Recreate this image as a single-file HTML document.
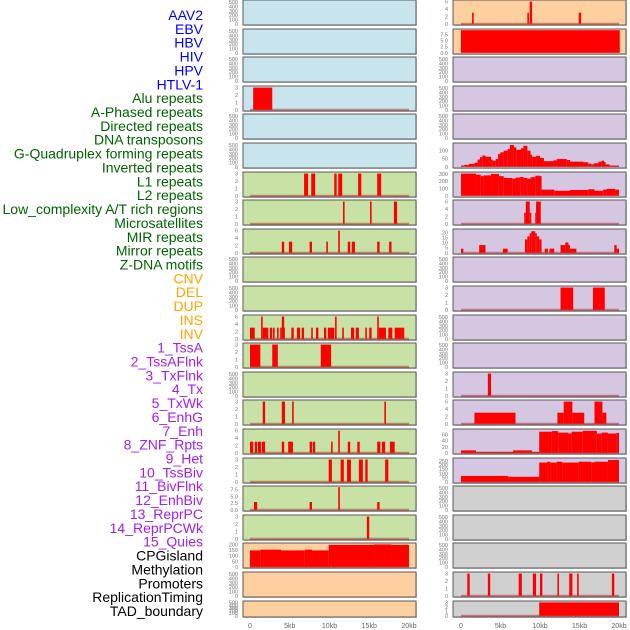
<!DOCTYPE html>
<html><head><meta charset="utf-8">
<style>
html,body{margin:0;padding:0;background:#fff;}
svg{display:block;font-family:"Liberation Sans",sans-serif;}
</style></head>
<body>
<svg id="chart" width="630" height="630" viewBox="0 0 630 630"></svg>
<script>
// ---- track labels (left side) ----
const labels = ["AAV2","EBV","HBV","HIV","HPV","HTLV-1","Alu repeats","A-Phased repeats","Directed repeats","DNA transposons","G-Quadruplex forming repeats","Inverted repeats","L1 repeats","L2 repeats","Low_complexity A/T rich regions","Microsatellites","MIR repeats","Mirror repeats","Z-DNA motifs","CNV","DEL","DUP","INS","INV","1_TssA","2_TssAFlnk","3_TxFlnk","4_Tx","5_TxWk","6_EnhG","7_Enh","8_ZNF_Rpts","9_Het","10_TssBiv","11_BivFlnk","12_EnhBiv","13_ReprPC","14_ReprPCWk","15_Quies","CPGisland","Methylation","Promoters","ReplicationTiming","TAD_boundary"];
const labelGroups = [6,13,5,15,5];
const xTicks = [0,5,10,15,20];
const xTickLabels = ["0","5kb","10kb","15kb","20kb"];

// ---- panel data: [startKb, endKb, value] ----
const E = [];
const L_alu = [[0.4,2.8,3]];
const L_l1 = [[6.8,7.3,3],[7.7,8.2,3],[10.6,10.9,3],[11.1,11.6,3],[13.6,14.0,3],[16.0,16.5,3]];
const L_l2 = [[11.7,11.9,3],[15.1,15.3,3],[18.1,18.5,3]];
const L_low = [[4.0,4.3,3],[4.9,5.3,3],[7.5,7.8,3],[9.6,9.8,3],[11.1,11.3,6],[12.3,12.6,3],[12.8,13.2,3],[16.0,16.3,3],[17.5,17.8,3]];
const L_r12 = [[0.0,0.6,3],[1.4,1.6,6],[1.6,2.3,3],[2.5,2.8,3],[2.9,3.1,3],[3.4,3.6,3],[3.8,4.0,3],[4.0,4.3,6],[4.3,4.4,3],[5.2,5.5,3],[5.9,6.3,3],[6.5,6.8,3],[7.7,7.9,3],[8.3,8.6,3],[9.3,9.6,3],[9.8,10.6,3],[10.7,10.9,6],[11.6,11.8,3],[12.7,13.1,3],[13.3,13.7,3],[14.5,14.7,3],[15.0,15.3,3],[16.0,16.2,6],[16.2,17.1,3],[17.4,17.9,3],[18.2,19.1,3],[19.1,19.4,3]];
const L_r13 = [[0.0,1.3,3],[2.8,3.5,3],[8.9,10.2,3]];
const L_r15 = [[1.6,1.9,3],[4.0,4.4,3],[5.3,5.5,3],[16.9,17.1,3]];
const L_r16 = [[0.0,0.4,3],[0.6,0.9,3],[1.0,1.4,3],[1.5,1.9,3],[4.0,4.3,3],[4.8,5.4,3],[7.5,7.8,3],[7.9,8.2,3],[10.2,10.4,3],[11.1,11.3,6],[12.3,12.6,3],[13.5,13.8,3],[16.0,16.4,3],[16.6,17.0,3],[17.6,18.2,3]];
const L_r17 = [[9.9,10.3,3],[11.4,11.8,3],[12.2,12.7,3],[13.7,14.2,3],[14.5,14.8,3],[17.0,17.4,3]];
const L_r18 = [[0.5,0.9,2.9],[7.5,7.8,2.9],[11.1,11.3,8.4],[16.0,16.3,2.9]];
const L_r19 = [[14.7,15.0,3]];
const L_r20 = [[0,1.3,148],[1.3,3.9,155],[3.9,6.9,148],[6.9,7.8,155],[7.8,9.9,148],[9.9,15.6,198],[15.6,17.8,202],[17.8,20,198]];
const R_r1 = [[1.4,1.6,3],[8.4,8.6,3],[8.7,9.0,6],[14.9,15.2,3]];
const R_r2 = [[0,20.1,9.2]];
const R_r6 = [[0,0.4,8],[0.4,1.0,12],[1.0,1.7,18],[1.7,2.1,25],[2.1,2.4,45],[2.4,2.7,60],[2.7,3.1,70],[3.1,3.8,62],[3.8,4.0,45],[4.0,4.4,38],[4.4,4.7,48],[4.7,5.0,80],[5.0,5.4,90],[5.4,5.9,100],[5.9,6.2,110],[6.2,6.7,135],[6.7,7.0,120],[7.0,7.6,105],[7.6,7.9,115],[7.9,8.4,130],[8.4,8.8,100],[8.8,9.0,75],[9.0,9.5,62],[9.5,10.0,68],[10.0,10.5,55],[10.5,11.7,35],[11.7,12.1,40],[12.1,13.4,48],[13.4,13.8,42],[13.8,15.5,32],[15.5,16.1,28],[16.1,16.5,20],[16.5,16.8,15],[16.8,17.4,22],[17.4,17.8,32],[17.8,18.1,38],[18.1,18.3,30],[18.3,18.8,15],[18.8,20.0,8]];
const R_r7 = [[0,1.9,305],[1.9,2.5,290],[2.5,2.9,270],[2.9,3.8,280],[3.8,4.8,300],[4.8,5.4,270],[5.4,6.5,245],[6.5,6.9,235],[6.9,7.5,250],[7.5,7.9,260],[7.9,8.4,245],[8.4,8.8,235],[8.8,9.4,255],[9.4,10.0,275],[10.0,10.2,270],[10.2,11.8,85],[11.8,13.8,70],[13.8,16.1,80],[16.1,16.9,90],[16.9,18.0,70],[18.0,18.4,85],[18.4,19.5,95],[19.5,20,85]];
const R_r8 = [[8.0,8.2,3],[8.2,8.7,6],[8.7,8.9,3],[9.4,9.5,3],[9.5,10.1,6]];
const R_r9 = [[0,0.3,4],[2.3,3.1,7.5],[5.3,5.9,4],[8.1,8.4,13],[8.4,8.7,16],[8.7,8.9,19],[8.9,9.4,21],[9.4,9.6,19],[9.6,9.9,16],[9.9,10.2,13],[10.6,11.0,4],[11.2,11.8,4],[12.6,13.2,7.5],[13.2,13.6,10],[13.6,13.8,7.5],[13.8,14.6,4],[19.4,19.7,7.5],[19.7,20.0,4]];
const R_r11 = [[12.6,14.2,3],[16.7,18.2,3]];
const R_r14 = [[3.4,3.8,3]];
const R_r15 = [[1.7,6.9,3],[12.2,13.0,3],[13.0,14.1,6],[14.1,15.6,3],[16.9,17.9,6],[17.9,18.4,3]];
const R_r16 = [[0,1.9,8],[1.9,6.6,3],[6.6,9.0,8],[9.0,9.9,3],[9.9,11.5,70],[11.5,12.3,72],[12.3,13.6,67],[13.6,14.0,64],[14.0,15.4,70],[15.4,17.2,73],[17.2,17.8,64],[17.8,18.6,67],[18.6,19.7,64],[19.7,20,66]];
const R_r17 = [[0,6.0,70],[6.0,9.9,60],[9.9,10.9,230],[10.9,11.3,240],[11.3,12.1,230],[12.1,12.8,240],[12.8,14.9,230],[14.9,16.5,240],[16.5,16.9,232],[16.9,18.6,240],[18.6,20,260]];
const R_r21 = [[0.8,1.1,3],[3.4,3.7,3],[7.3,7.7,3],[9.1,9.5,3],[10.0,10.3,3],[12.2,12.4,3],[13.7,14.1,3],[14.7,14.9,3],[19.1,19.4,3]];
const R_r22 = [[9.9,20.0,3]];

// tick sets
const T_E = [0,100,200,300,400,500], T3 = [0,1,2,3], T6 = [0,2,4,6], T75 = [0,2.5,5.0,7.5];
const BLUE="#c8e4ec", GREEN="#c8e1a5", ORANGE="#ffd09f", PURPLE="#d5c6e2", GREY="#d0d0d0";
// [segments, ticks, ymax, fill, hasBase, tickLabels]
const leftPanels = [
 [E,T_E,520,BLUE],[E,T_E,520,BLUE],[E,T_E,520,BLUE],[L_alu,T3,3.05,BLUE,1],[E,T_E,520,BLUE],[E,T_E,520,BLUE],
 [L_l1,T3,3.05,GREEN,1],[L_l2,T3,3.05,GREEN,1],[L_low,T6,6.1,GREEN,1],[E,T_E,520,GREEN],[E,T_E,520,GREEN],
 [L_r12,T6,6.1,GREEN,1],[L_r13,T3,3.05,GREEN,1],[E,T_E,520,GREEN],[L_r15,T3,3.05,GREEN,1],[L_r16,T6,6.1,GREEN,1],
 [L_r17,T3,3.05,GREEN,1],[L_r18,T75,8.4,GREEN,1],[L_r19,T3,3.05,GREEN,1],
 [L_r20,[0,50,100,150,200],204,ORANGE,1],[E,T_E,520,ORANGE],[E,T_E,520,ORANGE]
];
const rightPanels = [
 [R_r1,T6,6.1,ORANGE,1],[R_r2,T75,9.2,ORANGE,0],[E,T_E,520,PURPLE],[E,T_E,520,PURPLE],[E,T_E,520,PURPLE],
 [R_r6,[0,50,100],140,PURPLE,0],[R_r7,[0,100,200,300],310,PURPLE,0],[R_r8,T6,6.1,PURPLE,1],[R_r9,[0,5,10,15,20],22,PURPLE,1],
 [E,T_E,520,PURPLE],[R_r11,T3,3.05,PURPLE,1],[E,T_E,520,PURPLE],[E,T_E,520,PURPLE],[R_r14,T3,3.05,PURPLE,1],
 [R_r15,T6,6.1,PURPLE,1],[R_r16,[0,20,40,60],75,PURPLE,1],[R_r17,[0,50,100,150,200,250],270,PURPLE,1],
 [E,T_E,520,GREY],[E,T_E,520,GREY],[E,T_E,520,GREY],[R_r21,T3,3.05,GREY,1],[R_r22,T3,3.05,GREY,1]
];

const NS="http://www.w3.org/2000/svg";
const svg=document.getElementById('chart');
function el(tag,attrs,parent){const e=document.createElementNS(NS,tag);for(const k in attrs)e.setAttribute(k,attrs[k]);(parent||svg).appendChild(e);return e;}

// labels
const groupColors=["#0000ff","#006400","#ffa500","#a020f0","#000000"];
let gi=0,gc=0;
labels.forEach((t,i)=>{
  const tx=el('text',{x:203,y:15+i*13.86+5,'text-anchor':'end','font-size':14,fill:groupColors[gi]});
  tx.textContent=t;
  
  
  gc++; if(gc>=labelGroups[gi]){gi++;gc=0;}
});

function drawColumn(panels,px0,px1,x0,x20,col){
  const xs=kb=>x0+(x20-x0)*kb/20;
  panels.forEach((p,i)=>{
    const [segs,ticks,ymax,fill,hasBase]=p;
    const top=Math.round(i*28.6), h=(i===21)?16:25, bot=top+h;
    const g=el('g',{});
    
    
    el('rect',{x:px0+1,y:top+1,width:px1-px0,height:h,fill:'#999','opacity':0.5},g);
    el('rect',{x:px0,y:top,width:px1-px0,height:h,fill:fill,stroke:'#5a5a5a','stroke-width':1},g);
    const yb=bot-1.2, yt=top+1.2;
    const ys=v=>yb-(yb-yt)*v/ymax;
    if(hasBase){
      const bl=el('line',{x1:xs(0),x2:xs(20),y1:yb,y2:yb,stroke:'rgba(170,20,20,0.45)','stroke-width':2},g);
      
      
    }
    segs.forEach(s=>{
      const r=el('rect',{x:xs(s[0]),y:ys(Math.min(s[2],ymax)),width:Math.max(0.8,xs(s[1])-xs(s[0])),height:yb-ys(Math.min(s[2],ymax)),fill:'#ff0000'},g);
      
      
    });
    ticks.forEach(v=>{
      const t=el('text',{x:px0-5,y:Math.min(ys(v)+2,bot+2),'text-anchor':'end','font-size':5.5,fill:'#777'},g);
      t.textContent=(ticks===T75)?v.toFixed(1):String(v);
      
      
    });
  });
  xTicks.forEach((v,j)=>{
    const t=el('text',{x:xs(v),y:628,'text-anchor':'middle','font-size':7,fill:'#666'});
    t.textContent=xTickLabels[j];
    
    
  });
}
drawColumn(leftPanels,243,416,250,409,'left');
drawColumn(rightPanels,453,626,461,619,'right');
</script>
</body></html>
